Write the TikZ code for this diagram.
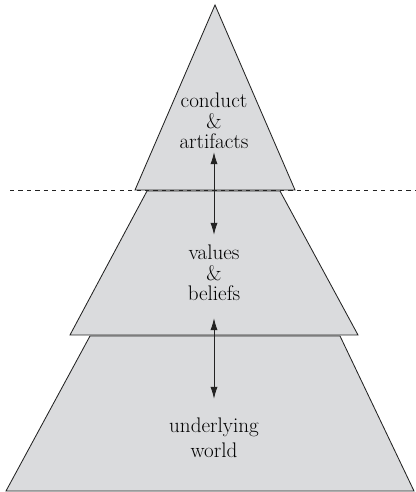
\documentclass[tikz,border=0pt]{standalone}
\usepackage{tikz}
\usetikzlibrary{arrows,arrows.meta,calc,positioning}
\usepackage{xcolor}
\definecolor{layergray}{RGB}{218,219,221}
\definecolor{inkgray}{RGB}{35,35,35}

\tikzset{
  layer/.style={draw=inkgray, fill=layergray, line width=0.6pt, line join=miter},
  label/.style={align=center, inner sep=0pt, text=black, font=\fontsize{15}{14.6}\selectfont},
  link/.style={{Latex[length=0.3cm,width=0.18cm]}-{Latex[length=0.3cm,width=0.18cm]}, draw=inkgray, line width=0.6pt}
}

\begin{document}
\begin{tikzpicture}
\useasboundingbox (0,0) rectangle (10.4,12.3);
\draw[layer] (0.15,0.025) to (10.35,0.025) to (8.5,3.9) to (2.25,3.9) to cycle; %world
\draw[layer] (1.75,3.925) to (8.95,3.925) to (7.0,7.525) to (3.675,7.525) to cycle; %beliefs
\draw[layer] (3.375,7.55) to (7.375,7.55) to (5.375,12.175) to cycle; %artifacts
\draw[dashed, draw=inkgray, line width=0.6pt] (0.25,7.55) to (10.4,7.55);
\node[label] (conduct) at (5.35,9.275) {conduct\\\&\\artifacts};
\node[label] (values) at (5.35,5.475) {values\\\&\\beliefs};
\node[label, font=\fontsize{15}{17.8}\selectfont] (world) at (5.35,1.35) {underlying\\world};
\draw[link, shorten <=0.075cm, shorten >=0.25cm] (conduct) to (values);
\draw[link, shorten <=0.425cm, shorten >=0.475cm] (values) to (world);
\end{tikzpicture}
\end{document}
